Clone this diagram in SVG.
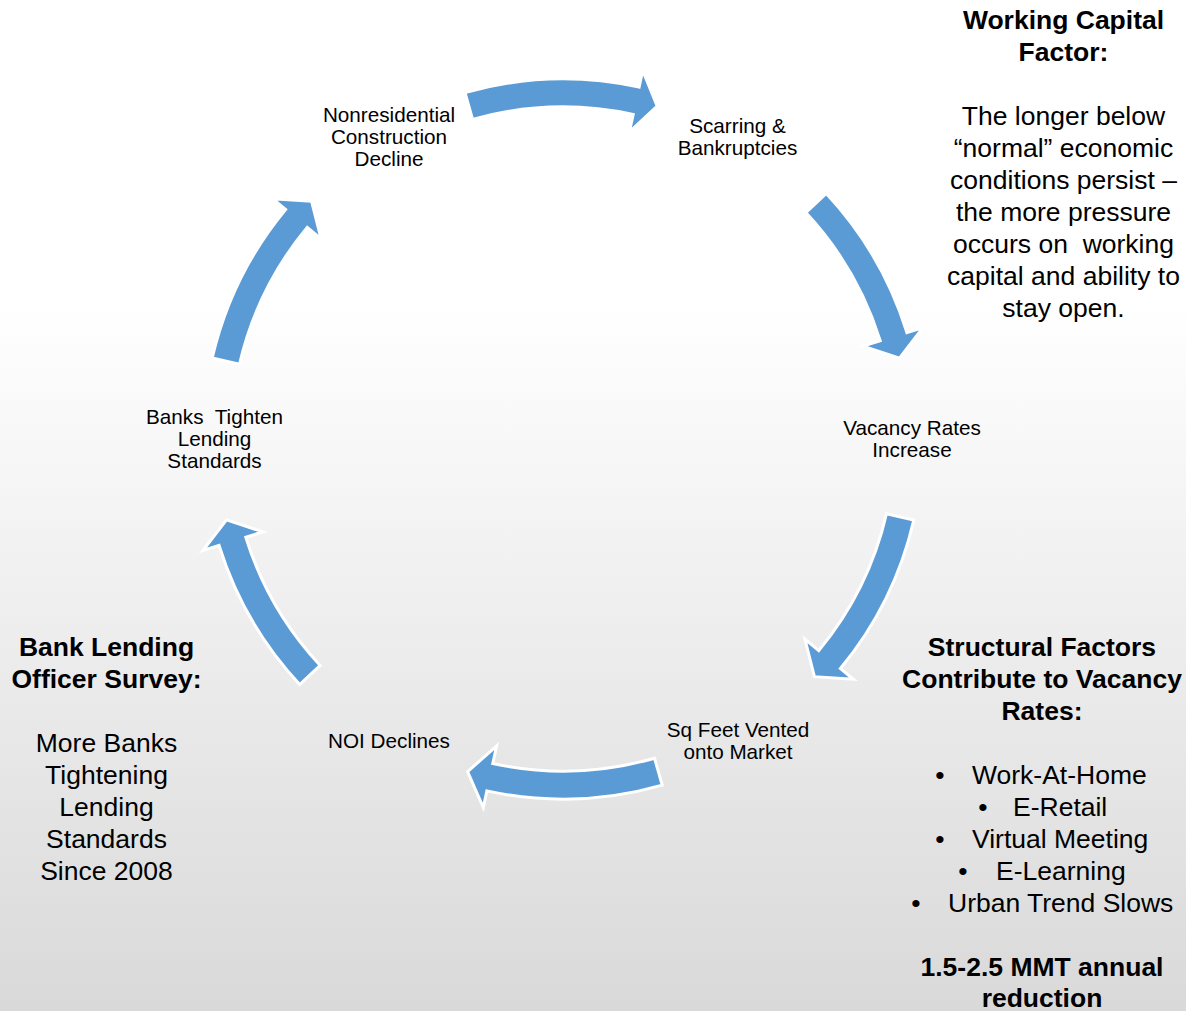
<svg xmlns="http://www.w3.org/2000/svg" width="1186" height="1011" viewBox="0 0 1186 1011">
  <defs>
    <linearGradient id="bg" x1="0" y1="0" x2="0" y2="1">
      <stop offset="0" stop-color="#ffffff"/>
      <stop offset="0.3" stop-color="#ffffff"/>
      <stop offset="1" stop-color="#d9d9d9"/>
    </linearGradient>
    <style>
      text { font-family: "Liberation Sans", Arial, sans-serif; fill: #000; }
      .node { font-size: 20.7px; text-anchor: middle; }
      .note { font-size: 26.5px; text-anchor: middle; }
      .note-b { font-size: 26.5px; font-weight: bold; text-anchor: middle; }
      .item { font-size: 26.5px; text-anchor: start; }
      .dot { font-size: 26.5px; text-anchor: middle; }
      .arrow { fill: #5b9bd5; stroke: #ffffff; stroke-width: 3; stroke-linejoin: miter; }
    </style>
  </defs>

  <rect x="0" y="0" width="1186" height="1011" fill="url(#bg)"/>

  <!-- curved cycle arrows, all running clockwise around (563,439) -->
  <g id="connectors">
    <path class="arrow" d="M465.0,92.6 A360,360 0 0 1 639.1,87.1 L642.7,70.5 L657.2,106.1 L629.3,132.1 L633.2,114.5 A332,332 0 0 0 472.6,119.5 Z"/>
    <path class="arrow" d="M826.3,193.5 A360,360 0 0 1 906.9,332.5 L923.1,327.5 L899.5,358.2 L863.0,346.1 L880.2,340.8 A332,332 0 0 0 805.8,212.6 Z"/>
    <path class="arrow" d="M913.8,520.0 A360,360 0 0 1 840.4,668.5 L853.5,679.3 L814.4,676.7 L804.9,639.1 L818.8,650.6 A332,332 0 0 0 886.5,513.7 Z"/>
    <path class="arrow" d="M662.2,785.1 A360,360 0 0 1 486.9,790.9 L483.3,807.5 L467.6,771.6 L496.7,745.9 L492.8,763.5 A332,332 0 0 0 654.5,758.2 Z"/>
    <path class="arrow" d="M299.7,684.5 A360,360 0 0 1 219.1,545.5 L202.9,550.5 L226.5,519.8 L263.0,531.9 L245.8,537.2 A332,332 0 0 0 320.2,665.4 Z"/>
    <path class="arrow" d="M212.2,358.0 A360,360 0 0 1 285.6,209.5 L272.5,198.7 L311.6,201.3 L321.1,238.9 L307.2,227.4 A332,332 0 0 0 239.5,364.3 Z"/>
  </g>

  <g id="node-construction">
    <text class="node" x="389" y="122">Nonresidential</text>
    <text class="node" x="389" y="144">Construction</text>
    <text class="node" x="389" y="166">Decline</text>
  </g>
  <g id="node-scarring">
    <text class="node" x="737.5" y="133">Scarring &amp;</text>
    <text class="node" x="737.5" y="155">Bankruptcies</text>
  </g>
  <g id="node-vacancy">
    <text class="node" x="912" y="435">Vacancy Rates</text>
    <text class="node" x="912" y="457">Increase</text>
  </g>
  <g id="node-sqfeet">
    <text class="node" x="738" y="737">Sq Feet Vented</text>
    <text class="node" x="738" y="759">onto Market</text>
  </g>
  <g id="node-noi">
    <text class="node" x="389" y="748">NOI Declines</text>
  </g>
  <g id="node-banks">
    <text class="node" x="214.5" y="424" xml:space="preserve">Banks  Tighten</text>
    <text class="node" x="214.5" y="446">Lending</text>
    <text class="node" x="214.5" y="468">Standards</text>
  </g>

  <g id="note-working-capital">
    <text class="note-b" x="1063.5" y="28.5">Working Capital</text>
    <text class="note-b" x="1063.5" y="60.5">Factor:</text>
    <text class="note" x="1063.5" y="124.5">The longer below</text>
    <text class="note" x="1063.5" y="156.5">“normal” economic</text>
    <text class="note" x="1063.5" y="188.5">conditions persist –</text>
    <text class="note" x="1063.5" y="220.5">the more pressure</text>
    <text class="note" x="1063.5" y="252.5" xml:space="preserve">occurs on  working</text>
    <text class="note" x="1063.5" y="284.5">capital and ability to</text>
    <text class="note" x="1063.5" y="316.5">stay open.</text>
  </g>

  <g id="note-lending-survey">
    <text class="note-b" x="106.5" y="655.5">Bank Lending</text>
    <text class="note-b" x="106.5" y="687.5">Officer Survey:</text>
    <text class="note" x="106.5" y="751.5">More Banks</text>
    <text class="note" x="106.5" y="783.5">Tightening</text>
    <text class="note" x="106.5" y="815.5">Lending</text>
    <text class="note" x="106.5" y="847.5">Standards</text>
    <text class="note" x="106.5" y="879.5">Since 2008</text>
  </g>

  <g id="note-structural">
    <text class="note-b" x="1042" y="655.5">Structural Factors</text>
    <text class="note-b" x="1042" y="687.5">Contribute to Vacancy</text>
    <text class="note-b" x="1042" y="719.5">Rates:</text>
    <text class="dot" x="940" y="783.5">•</text>
    <text class="item" x="972" y="783.5">Work-At-Home</text>
    <text class="dot" x="983" y="815.5">•</text>
    <text class="item" x="1013" y="815.5">E-Retail</text>
    <text class="dot" x="940" y="847.5">•</text>
    <text class="item" x="972" y="847.5">Virtual Meeting</text>
    <text class="dot" x="963" y="879.5">•</text>
    <text class="item" x="996" y="879.5">E-Learning</text>
    <text class="dot" x="916" y="911.5">•</text>
    <text class="item" x="948" y="911.5">Urban Trend Slows</text>
    <text class="note-b" x="1042" y="975.5">1.5-2.5 MMT annual</text>
    <text class="note-b" x="1042" y="1006.5">reduction</text>
  </g>
</svg>
